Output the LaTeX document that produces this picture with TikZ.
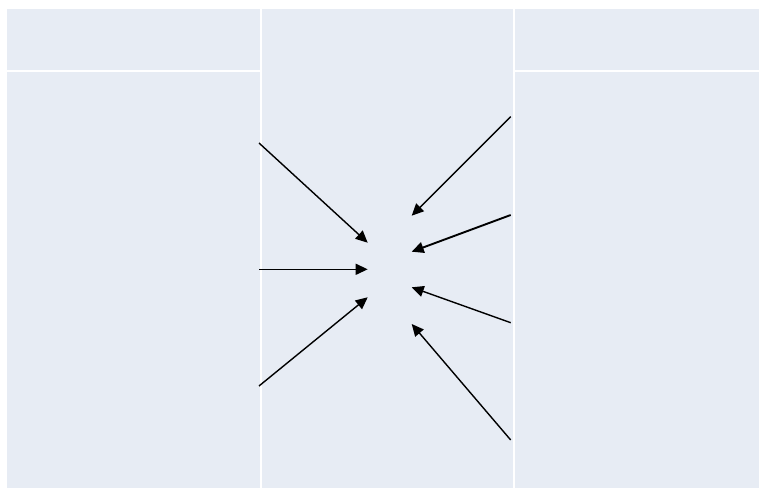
\documentclass[tikz,border=0pt]{standalone}
\usetikzlibrary{arrows.meta}
\definecolor{panelgrey}{HTML}{E7ECF4}
\tikzset{
  panel/.style={fill=panelgrey, draw=none},
  pointer/.style={draw=black, line width=1.4pt, -{Triangle[length=12pt,width=11pt]}}
}
\begin{document}
\begin{tikzpicture}[x=1pt,y=-1pt]
\useasboundingbox (0,0) rectangle (759,489);
\fill[white] (0,0) rectangle (759,489);
% panels
\fill[panel] (7,9.5) rectangle (259.5,70);
\fill[panel] (7,72) rectangle (259.5,488);
\fill[panel] (261.5,9.5) rectangle (512.5,488);
\fill[panel] (515,9.5) rectangle (759,70);
\fill[panel] (515,72) rectangle (759,488);
% endpoints
\coordinate (l1) at (259,143);
\coordinate (l2) at (259,269.3);
\coordinate (l3) at (259,386);
\coordinate (t1) at (367.7,242.7);
\coordinate (t2) at (367.7,269.3);
\coordinate (t3) at (367.7,297.3);
\coordinate (r1) at (510.7,116.7);
\coordinate (r2) at (510.7,215);
\coordinate (r3) at (510.7,322.7);
\coordinate (r4) at (510.7,440);
\coordinate (u1) at (411.7,215.7);
\coordinate (u2) at (411.7,251.7);
\coordinate (u3) at (411.7,287.3);
\coordinate (u4) at (411.7,324);
% arrows
\draw[pointer] (l1) -- (t1);
\draw[pointer] (l2) -- (t2);
\draw[pointer] (l3) -- (t3);
\draw[pointer] (r1) -- (u1);
\draw[pointer, line width=1.9pt] (r2) -- (u2);
\draw[pointer] (r3) -- (u3);
\draw[pointer] (r4) -- (u4);
\end{tikzpicture}
\end{document}
